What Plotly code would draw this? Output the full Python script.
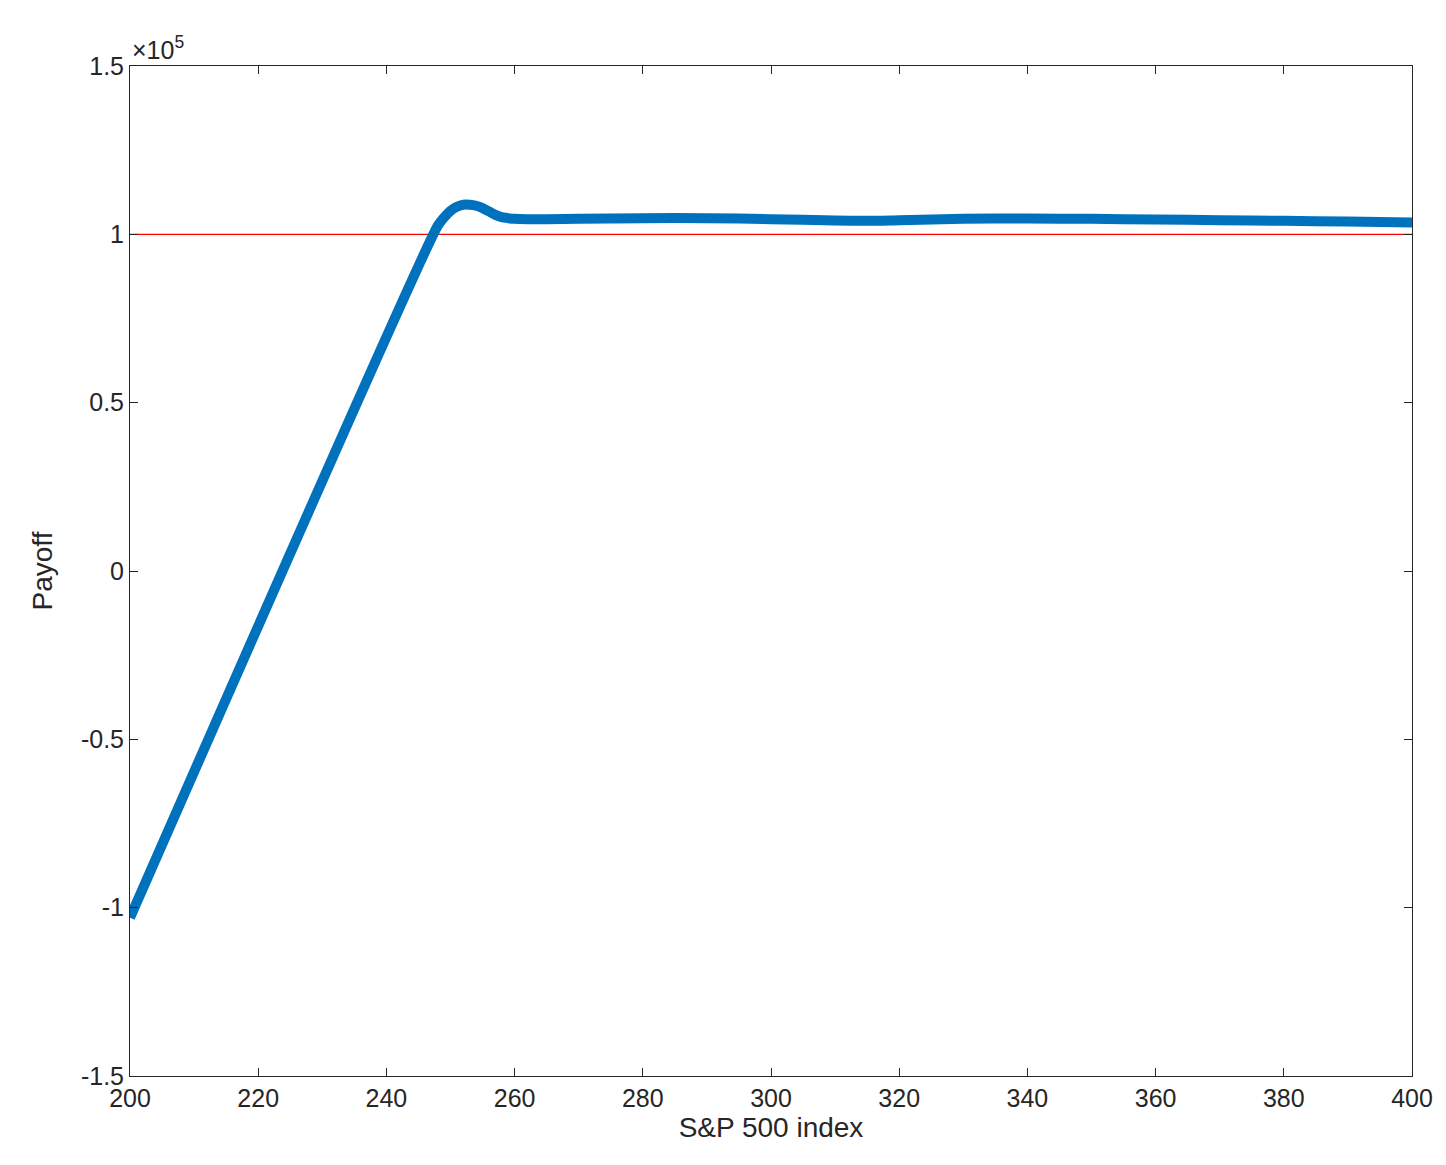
import plotly.graph_objects as go

index_x = [200, 248, 249, 250, 251, 252, 253, 254, 255, 256, 257, 258, 259, 260, 262, 265, 270, 280, 290, 300, 310, 315, 320, 330, 340, 350, 360, 370, 380, 390, 400]
payoff_y = [-1.03, 1.025, 1.05, 1.07, 1.082, 1.088, 1.088, 1.085, 1.078, 1.068, 1.058, 1.051, 1.048, 1.046, 1.045, 1.045, 1.046, 1.048, 1.048, 1.045, 1.041, 1.040, 1.042, 1.046, 1.047, 1.046, 1.044, 1.042, 1.040, 1.038, 1.035]
ref_level = 1.0

fig = go.Figure()
fig.add_trace(go.Scatter(x=[200, 400], y=[ref_level, ref_level], mode="lines",
                         line=dict(color="#FF0000", width=1.2), showlegend=False))
fig.add_trace(go.Scatter(x=index_x, y=payoff_y, mode="lines", line_shape="spline",
                         line=dict(color="#0072BD", width=10, smoothing=0.6), showlegend=False))

font = "Liberation Sans, Arial"
axis = dict(showgrid=False, zeroline=False, showline=True, linecolor="#262626", linewidth=1,
            mirror="ticks", ticks="inside", ticklen=8, tickcolor="#262626", automargin=False,
            tickfont=dict(family=font, size=25, color="#262626"))
fig.update_xaxes(range=[200, 400], tickvals=list(range(200, 401, 20)),
                 title=dict(text="S&P 500 index", font=dict(family=font, size=28, color="#262626"), standoff=4),
                 **axis)
fig.update_yaxes(range=[-1.5, 1.5], tickvals=[-1.5, -1, -0.5, 0, 0.5, 1, 1.5],
                 ticktext=["-1.5", "-1", "-0.5", "0", "0.5", "1", "1.5"],
                 title=dict(text="Payoff", font=dict(family=font, size=28, color="#262626"), standoff=20),
                 **axis)
fig.add_annotation(x=0, y=1, xref="paper", yref="paper", xanchor="left", yanchor="bottom",
                   text="×10<sup>5</sup>", showarrow=False,
                   font=dict(family=font, size=25, color="#262626"))
fig.update_layout(width=1446, height=1165, plot_bgcolor="white", paper_bgcolor="white",
                  margin=dict(l=122, r=42, t=58, b=97))
fig.write_html("out.html")
